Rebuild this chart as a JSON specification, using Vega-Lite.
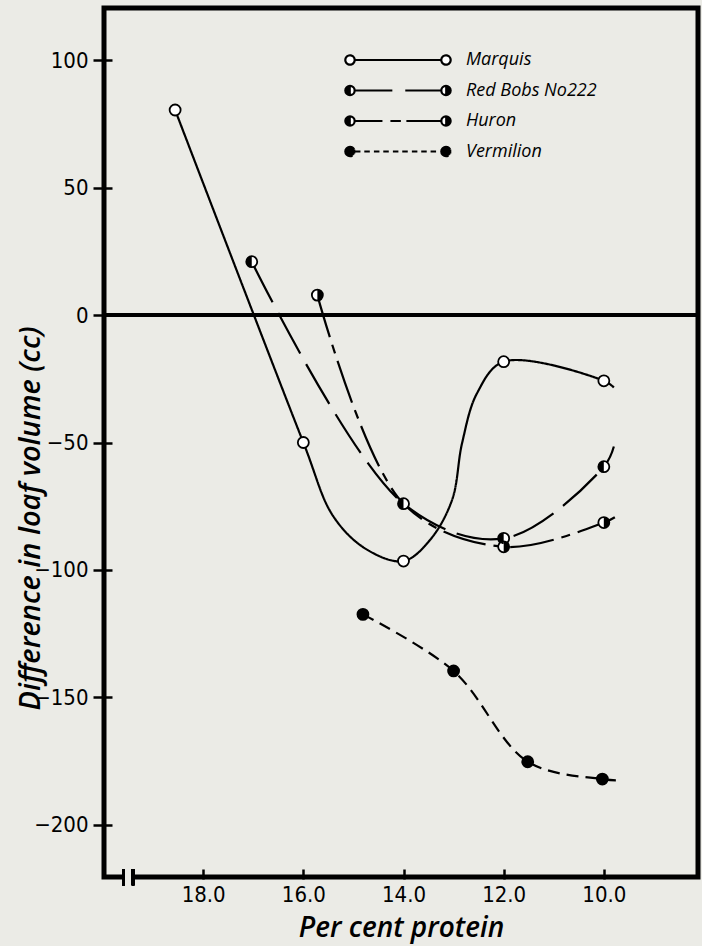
{
  "$schema": "https://vega.github.io/schema/vega-lite/v6.json",
  "width": 594,
  "height": 869,
  "autosize": {"type": "none"},
  "padding": {"left": 104, "top": 8, "right": 4, "bottom": 69},
  "background": "#ebebe6",
  "config": {
    "view": {"stroke": "black", "strokeWidth": 5, "fill": "#ebebe6"},
    "axis": {"domain": false, "grid": false, "tickColor": "black", "labelColor": "black", "titleColor": "black"}
  },
  "data": {
    "values": [
      {"variety": "Marquis", "protein": 18.56, "diff": 80.4, "marker": true},
      {"variety": "Marquis", "protein": 16.0, "diff": -50, "marker": true},
      {"variety": "Marquis", "protein": 15.4, "diff": -79, "marker": false},
      {"variety": "Marquis", "protein": 14.73, "diff": -92, "marker": false},
      {"variety": "Marquis", "protein": 14.0, "diff": -96.5, "marker": true},
      {"variety": "Marquis", "protein": 13.47, "diff": -88.2, "marker": false},
      {"variety": "Marquis", "protein": 13.03, "diff": -72.5, "marker": false},
      {"variety": "Marquis", "protein": 12.83, "diff": -50.2, "marker": false},
      {"variety": "Marquis", "protein": 12.53, "diff": -30.6, "marker": false},
      {"variety": "Marquis", "protein": 12.0, "diff": -18.3, "marker": true},
      {"variety": "Marquis", "protein": 10.0, "diff": -25.8, "marker": true},
      {"variety": "Marquis", "protein": 9.8, "diff": -28.4, "marker": false},
      {"variety": "Red Bobs No222", "protein": 17.03, "diff": 20.9, "marker": true},
      {"variety": "Red Bobs No222", "protein": 14.0, "diff": -74, "marker": true},
      {"variety": "Red Bobs No222", "protein": 12.0, "diff": -87.6, "marker": true},
      {"variety": "Red Bobs No222", "protein": 10.0, "diff": -59.5, "marker": true},
      {"variety": "Red Bobs No222", "protein": 9.8, "diff": -51.6, "marker": false},
      {"variety": "Huron", "protein": 15.72, "diff": 7.8, "marker": true},
      {"variety": "Huron", "protein": 14.0, "diff": -74, "marker": false},
      {"variety": "Huron", "protein": 12.0, "diff": -90.9, "marker": true},
      {"variety": "Huron", "protein": 10.0, "diff": -81.4, "marker": true},
      {"variety": "Huron", "protein": 9.78, "diff": -79.3, "marker": false},
      {"variety": "Vermilion", "protein": 14.81, "diff": -117.4, "marker": true},
      {"variety": "Vermilion", "protein": 13.0, "diff": -139.6, "marker": true},
      {"variety": "Vermilion", "protein": 11.52, "diff": -175.2, "marker": true},
      {"variety": "Vermilion", "protein": 10.03, "diff": -182, "marker": true},
      {"variety": "Vermilion", "protein": 9.76, "diff": -182.5, "marker": false}
    ]
  },
  "encoding": {
    "x": {
      "field": "protein", "type": "quantitative",
      "scale": {"domain": [8.12, 19.98], "reverse": true, "nice": false, "zero": false},
      "axis": {
        "values": [18, 16, 14, 12, 10], "format": ".1f",
        "offset": -8, "tickSize": 10, "tickWidth": 2.5, "labelPadding": 5,
        "labelFont": "Liberation Sans Narrow, DejaVu Sans Condensed, Roboto", "labelFontSize": 22,
        "title": "Per cent protein", "titleFont": "Open Sans", "titleFontStyle": "italic", "titleFontWeight": 600,
        "titleFontSize": 28, "titleBaseline": "middle", "titleY": 59
      }
    },
    "y": {
      "field": "diff", "type": "quantitative",
      "scale": {"domain": [-220.4, 120.4], "nice": false, "zero": false},
      "axis": {
        "values": [-200, -150, -100, -50, 0, 50, 100],
        "offset": -8, "tickSize": 19, "tickWidth": 2.5, "labelPadding": 5,
        "labelFont": "Liberation Sans Narrow, DejaVu Sans Condensed, Roboto", "labelFontSize": 22,
        "title": "Difference in loaf volume (cc)", "titleFont": "Open Sans", "titleFontStyle": "italic", "titleFontWeight": 600,
        "titleFontSize": 29, "titleBaseline": "middle", "titleX": -82, "titleY": 510, "titleAngle": -90
      }
    }
  },
  "layer": [
    {
      "mark": {"type": "rule", "strokeWidth": 4, "color": "black"},
      "encoding": {"x": null, "y": {"datum": 0}}
    },
    {
      "mark": {"type": "line", "interpolate": "catmull-rom", "stroke": "black"},
      "encoding": {
        "order": {"field": "protein", "sort": "descending"},
        "strokeWidth": {"field": "variety", "scale": {"domain": ["Marquis", "Red Bobs No222", "Huron", "Vermilion"], "range": [2.2, 2.2, 2.2, 3]}, "legend": null},
        "strokeDash": {
          "field": "variety",
          "scale": {"domain": ["Marquis", "Red Bobs No222", "Huron", "Vermilion"], "range": [[1, 0], [46, 12], [44, 8, 9, 8], [12, 7]]},
          "legend": {
            "orient": "none", "legendX": 237, "legendY": 43, "direction": "vertical", "title": null,
            "padding": 0, "rowPadding": 10.5, "labelOffset": 107,
            "labelFont": "Open Sans", "labelFontStyle": "italic", "labelFontSize": 18, "labelColor": "black",
            "symbolSize": 100, "symbolStrokeWidth": 1.5, "symbolStrokeColor": "black", "symbolFillColor": "white", "symbolDash": [1, 0], "symbolOpacity": 1,
            "symbolType": {"expr": "datum.value === 'Marquis' ? 'M-0.85,0A0.85,0.85 0 1,1 0.85,0A0.85,0.85 0 1,1 -0.85,0ZM16.6,0A0.85,0.85 0 1,1 18.3,0A0.85,0.85 0 1,1 16.6,0ZM0.85,0L16.6,0' : datum.value === 'Red Bobs No222' ? 'M-0.85,0A0.85,0.85 0 1,1 0.85,0A0.85,0.85 0 1,1 -0.85,0ZM16.6,0A0.85,0.85 0 1,1 18.3,0A0.85,0.85 0 1,1 16.6,0ZM0.85,0L7.7,0M10.05,0L16.6,0M-0.77,-0.36L-0.77,0.36M-0.59,-0.61L-0.59,0.61M-0.41,-0.745L-0.41,0.745M-0.23,-0.82L-0.23,0.82M-0.05,-0.85L-0.05,0.85M17.5,-0.85L17.5,0.85M17.68,-0.82L17.68,0.82M17.86,-0.745L17.86,0.745M18.04,-0.61L18.04,0.61M18.22,-0.36L18.22,0.36' : datum.value === 'Huron' ? 'M-0.85,0A0.85,0.85 0 1,1 0.85,0A0.85,0.85 0 1,1 -0.85,0ZM16.6,0A0.85,0.85 0 1,1 18.3,0A0.85,0.85 0 1,1 16.6,0ZM0.85,0L5.9,0M7.35,0L9.25,0M10.25,0L16.6,0M-0.77,-0.36L-0.77,0.36M-0.59,-0.61L-0.59,0.61M-0.41,-0.745L-0.41,0.745M-0.23,-0.82L-0.23,0.82M-0.05,-0.85L-0.05,0.85M17.5,-0.85L17.5,0.85M17.68,-0.82L17.68,0.82M17.86,-0.745L17.86,0.745M18.04,-0.61L18.04,0.61M18.22,-0.36L18.22,0.36' : 'M-0.85,0A0.85,0.85 0 1,1 0.85,0A0.85,0.85 0 1,1 -0.85,0ZM16.6,0A0.85,0.85 0 1,1 18.3,0A0.85,0.85 0 1,1 16.6,0ZM0.9,0L1.9,0M2.6,0L3.6,0M4.35,0L5.35,0M6.05,0L7.05,0M7.8,0L8.8,0M9.5,0L10.5,0M11.25,0L12.25,0M12.95,0L13.95,0M14.65,0L15.65,0M-0.77,-0.36L-0.77,0.36M-0.59,-0.61L-0.59,0.61M-0.41,-0.745L-0.41,0.745M-0.23,-0.82L-0.23,0.82M-0.05,-0.85L-0.05,0.85M0.05,-0.85L0.05,0.85M0.23,-0.82L0.23,0.82M0.41,-0.745L0.41,0.745M0.59,-0.61L0.59,0.61M0.77,-0.36L0.77,0.36M16.68,-0.36L16.68,0.36M16.86,-0.61L16.86,0.61M17.04,-0.745L17.04,0.745M17.22,-0.82L17.22,0.82M17.4,-0.85L17.4,0.85M17.5,-0.85L17.5,0.85M17.68,-0.82L17.68,0.82M17.86,-0.745L17.86,0.745M18.04,-0.61L18.04,0.61M18.22,-0.36L18.22,0.36'"}
          }
        }
      }
    },
    {
      "transform": [{"filter": "datum.marker"}],
      "mark": {"type": "point", "shape": "circle", "filled": true, "stroke": "black", "strokeWidth": 1.8, "opacity": 1},
      "encoding": {
        "fill": {"field": "variety", "scale": {"domain": ["Marquis", "Red Bobs No222", "Huron", "Vermilion"], "range": ["white", "white", "white", "black"]}, "legend": null},
        "size": {"field": "variety", "scale": {"domain": ["Marquis", "Red Bobs No222", "Huron", "Vermilion"], "range": [121, 121, 121, 170]}, "legend": null}
      }
    },
    {
      "transform": [{"filter": "datum.marker && (datum.variety === 'Red Bobs No222' || datum.variety === 'Huron')"}],
      "mark": {"type": "point", "filled": true, "fill": "black", "strokeWidth": 0, "size": 121, "opacity": 1},
      "encoding": {
        "shape": {"field": "variety", "scale": {"domain": ["Red Bobs No222", "Huron"], "range": ["M0,-1A1,1 0 0,0 0,1Z", "M0,-1A1,1 0 0,1 0,1Z"]}, "legend": null}
      }
    },
    {
      "mark": {"type": "rect", "color": "#ebebe6"},
      "encoding": {"x": {"datum": 19.57}, "x2": {"datum": 19.42}, "y": {"datum": -218.6}, "y2": {"datum": -222.4}}
    },
    {
      "mark": {"type": "rule", "strokeWidth": 2.5, "color": "black"},
      "encoding": {"x": {"datum": 19.59}, "y": {"datum": -217.3}, "y2": {"datum": -223.6}}
    },
    {
      "mark": {"type": "rule", "strokeWidth": 2.5, "color": "black"},
      "encoding": {"x": {"datum": 19.4}, "y": {"datum": -217.3}, "y2": {"datum": -223.6}}
    }
  ]
}
